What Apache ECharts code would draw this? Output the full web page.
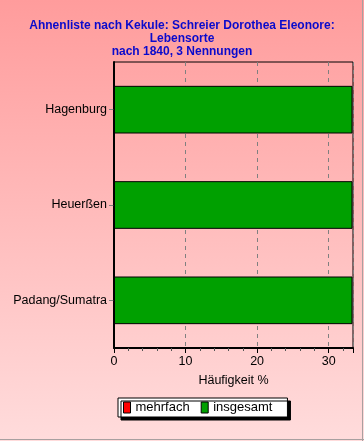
<!DOCTYPE html>
<html>
<head>
<meta charset="utf-8">
<style>
  html, body { margin: 0; padding: 0; }
  #chart { width: 364px; height: 441px; }
</style>
<script src="https://cdn.jsdelivr.net/npm/echarts@6/dist/echarts.min.js"></script>
</head>
<body>
<div id="chart"></div>
<script>
// Places of residence (after 1840), share of mentions in percent
const categories = ['Hagenburg', 'Heuerßen', 'Padang/Sumatra'];
const mehrfach = [0, 0, 0];
const insgesamt = [33.33, 33.33, 33.33];
const titleLines = [
  'Ahnenliste nach Kekule: Schreier Dorothea Eleonore:',
  'Lebensorte',
  'nach 1840, 3 Nennungen'
];
const axisName = 'Häufigkeit %';

const chart = echarts.init(document.getElementById('chart'));
const font = 'Liberation Sans, Arial, sans-serif';

chart.setOption({
  animation: false,
  backgroundColor: {
    type: 'linear', x: 0, y: 0, x2: 0, y2: 1,
    colorStops: [
      { offset: 0, color: '#ff9c9c' },
      { offset: 1, color: '#ffdcdc' }
    ]
  },
  title: {
    text: titleLines.join('\n'),
    left: 'center',
    top: 14,
    textStyle: {
      color: '#0a0acc',
      fontFamily: font,
      fontWeight: 'bold',
      fontSize: 12,
      lineHeight: 13
    }
  },
  legend: {
    data: ['mehrfach', 'insgesamt'],
    left: 118,
    top: 398,
    itemWidth: 7,
    itemHeight: 11,
    itemGap: 11,
    padding: [3, 15, 3, 5],
    backgroundColor: '#ffffff',
    borderColor: '#000000',
    borderWidth: 1,
    borderRadius: 0,
    shadowColor: '#000000',
    shadowBlur: 0,
    shadowOffsetX: 3,
    shadowOffsetY: 3,
    icon: 'rect',
    itemStyle: { borderColor: '#000000', borderWidth: 1 },
    textStyle: { fontFamily: font, fontSize: 13, color: '#000000' }
  },
  grid: {
    left: 114,
    right: 11,
    top: 62,
    bottom: 93,
    show: true,
    borderColor: '#000000',
    borderWidth: 1,
    backgroundColor: 'transparent'
  },
  xAxis: {
    type: 'value',
    min: 0,
    max: 33.4,
    interval: 10,
    name: axisName,
    nameLocation: 'middle',
    nameGap: 26,
    nameTextStyle: { fontFamily: font, fontSize: 12.5, color: '#000000' },
    axisLine: { show: true, lineStyle: { color: '#000000', width: 2 } },
    axisTick: { show: true, length: 5, lineStyle: { color: '#000000' } },
    minorTick: { show: true, splitNumber: 5, length: 3, lineStyle: { color: '#555555' } },
    axisLabel: {
      fontFamily: font, fontSize: 12.5, color: '#000000', margin: 7,
      showMaxLabel: false
    },
    splitLine: { show: true, lineStyle: { color: '#808080', type: [4, 4], width: 1 } }
  },
  yAxis: {
    type: 'category',
    data: categories,
    inverse: true,
    axisLine: { show: true, lineStyle: { color: '#000000', width: 2 } },
    axisTick: { show: true, alignWithLabel: true, length: 5, lineStyle: { color: '#808080' } },
    axisLabel: { fontFamily: font, fontSize: 12.5, color: '#000000', margin: 7 },
    splitLine: { show: false }
  },
  series: [
    {
      name: 'insgesamt',
      type: 'bar',
      data: insgesamt,
      barWidth: '50%',
      barGap: '-100%',
      itemStyle: { color: '#00a000', borderColor: '#000000', borderWidth: 1 }
    },
    {
      name: 'mehrfach',
      type: 'bar',
      data: mehrfach,
      barWidth: '50%',
      barGap: '-100%',
      itemStyle: { color: '#ff0000', borderColor: '#000000', borderWidth: 1 }
    }
  ],
  graphic: [
    { type: 'line', shape: { x1: 362.5, y1: 0, x2: 362.5, y2: 441 }, style: { stroke: '#a8a0a0', lineWidth: 1 }, silent: true },
    { type: 'line', shape: { x1: 0, y1: 439.5, x2: 364, y2: 439.5 }, style: { stroke: '#a8a0a0', lineWidth: 1 }, silent: true }
  ]
});
</script>
</body>
</html>
